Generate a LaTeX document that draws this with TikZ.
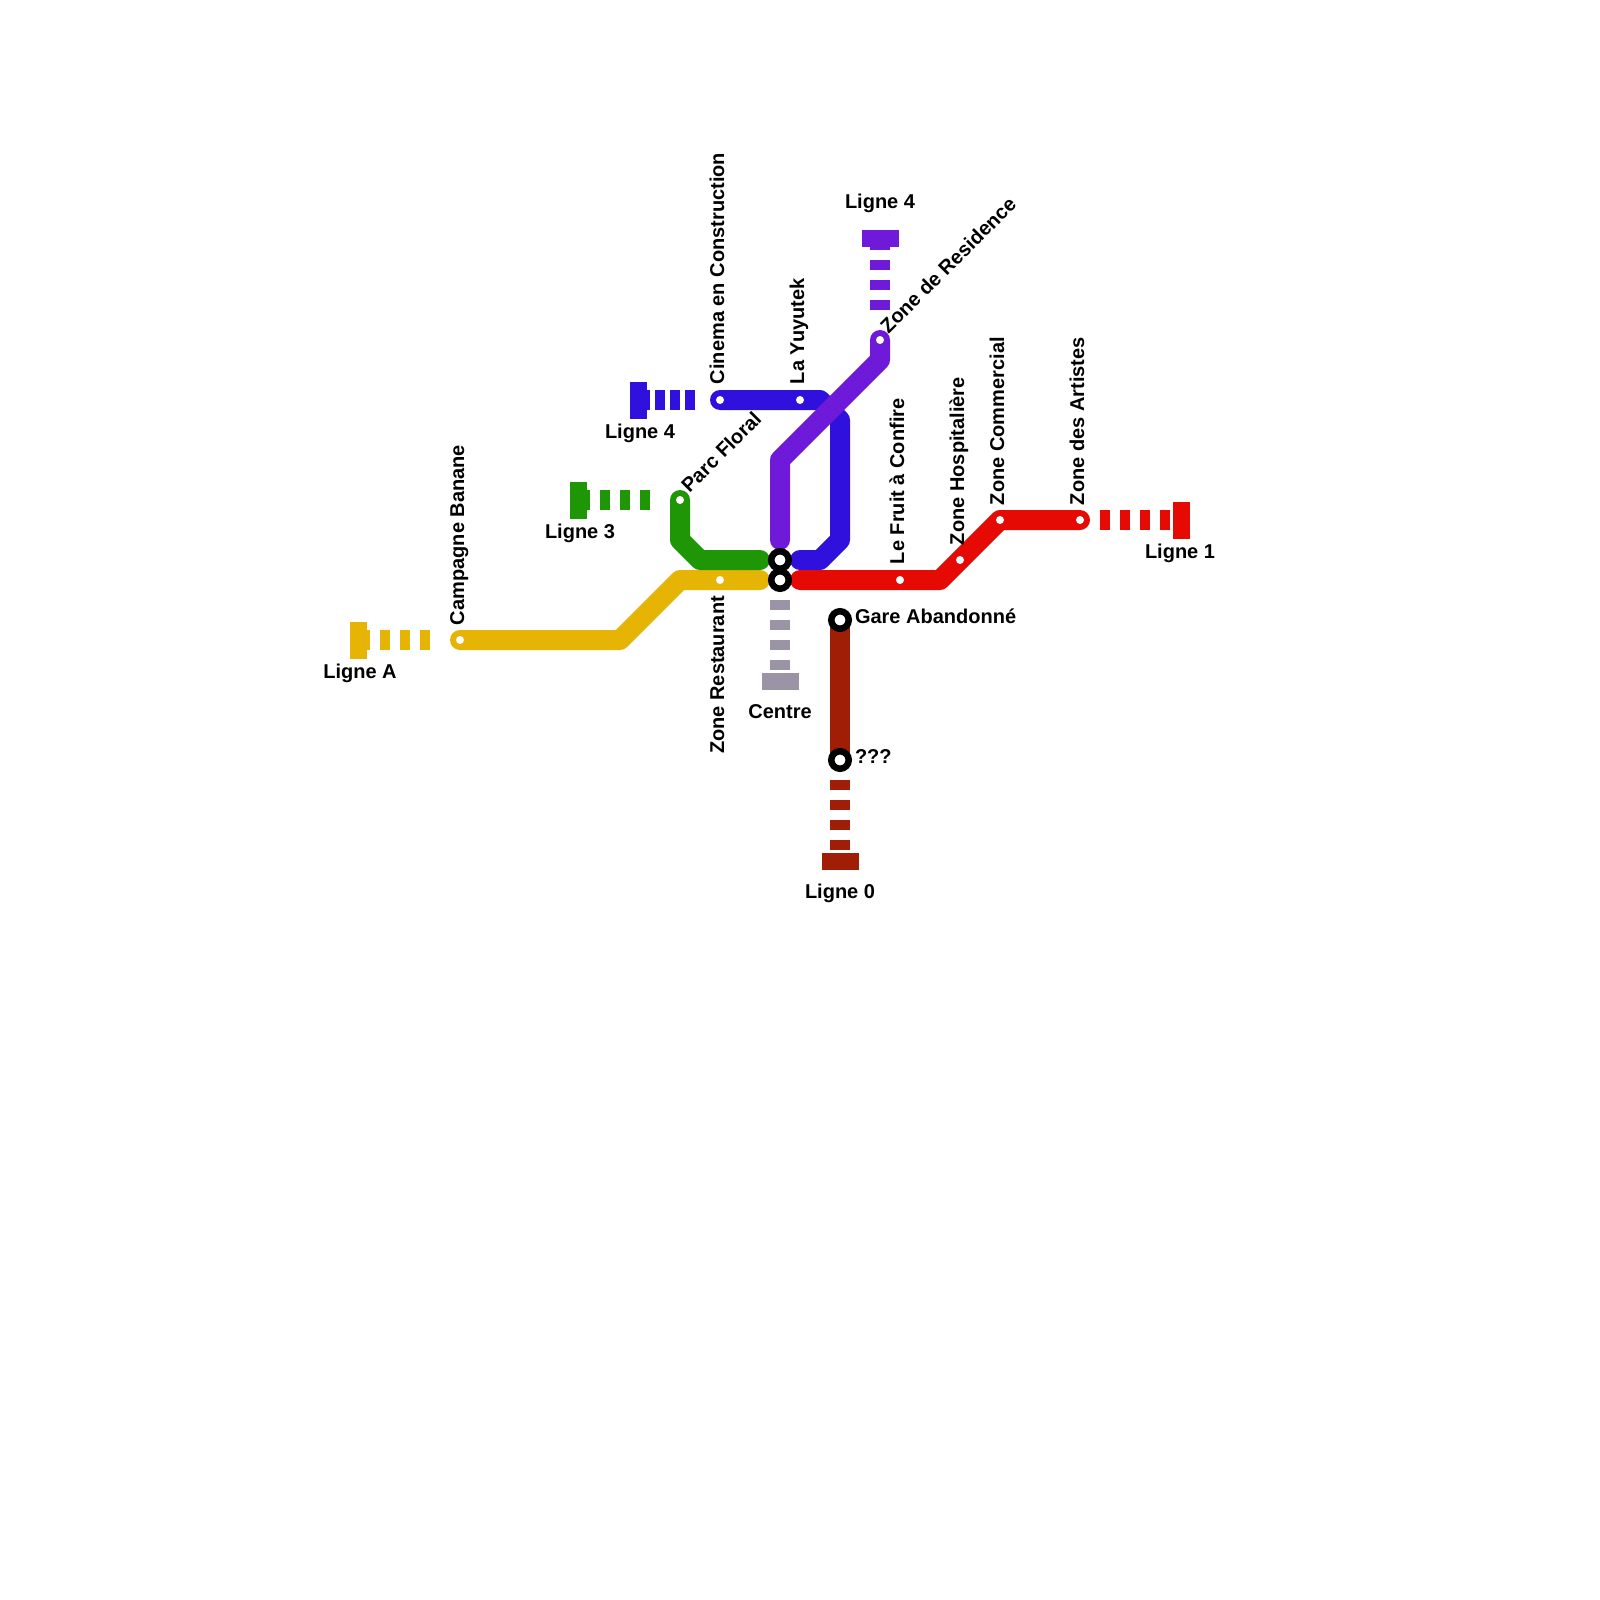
\documentclass[tikz,border=0pt]{standalone}
\usepackage{fontspec}
\setmainfont{Liberation Sans}
\definecolor{cgold}{HTML}{E6B405}
\definecolor{cgreen}{HTML}{1E9606}
\definecolor{cblue}{HTML}{3010DC}
\definecolor{cpurple}{HTML}{6E1AD8}
\definecolor{cred}{HTML}{E60A05}
\definecolor{cgray}{HTML}{9A94A6}
\definecolor{cmaroon}{HTML}{A01E05}
\tikzset{
  metro/.style={line width=20pt,line cap=round,line join=round},
  spur/.style={line width=20pt,line cap=butt},
  spurA/.style={spur,dash pattern=on 10pt off 10pt},
  spurB/.style={spur,dash pattern=on 10pt off 5pt},
  stn/.style={circle,fill=white,minimum size=8pt,inner sep=0pt,outer sep=0pt},
  hub/.style={circle,fill=white,draw=black,line width=6.5pt,minimum size=17.5pt,inner sep=0pt,outer sep=0pt},
  vblock/.style={rectangle,minimum width=17pt,minimum height=37pt,inner sep=0pt,outer sep=0pt},
  hblock/.style={rectangle,minimum width=37pt,minimum height=17pt,inner sep=0pt,outer sep=0pt},
  lab/.style={font=\fontsize{20}{24}\selectfont\bfseries,text=black,inner sep=0pt,outer sep=0pt,text height=14pt,text depth=4pt},
  vlab/.style={lab,rotate=90,anchor=west},
  vlabr/.style={lab,rotate=90,anchor=east},
  dlab/.style={lab,rotate=45,anchor=west},
  hlab/.style={lab,anchor=west},
  clab/.style={lab,anchor=center},
}
\begin{document}
\begin{tikzpicture}[x=1pt,y=-1pt]
\useasboundingbox[fill=white] (0,0) rectangle (1600,1600);
% way points
\foreach \n/\x/\y in {
  g1/460/640,g2/620/640,g3/680/580,g4/760/580,gs/430/640,ge/360/640,
  v1/680/500,v2/680/540,v3/700/560,v4/760/560,vs/650/500,ve/580/500,
  b1/720/400,b2/820/400,b3/840/420,b4/840/540,b5/820/560,b6/800/560,bs/695/400,be/640/400,
  p1/880/340,p2/880/360,p3/780/460,p4/780/540,ps/880/310,pe/880/240,
  r1/800/580,r2/940/580,r3/1000/520,r4/1080/520,rs/1100/520,re/1170/520,
  ys/780/600,ye/780/670,
  m1/840/620,m2/840/760,ms/840/780,me/840/850}
  {\coordinate (\n) at (\x,\y);}
% dashed spurs
\draw[spurA,cgold] (gs) -- (ge);
\draw[spurA,cgreen] (vs) -- (ve);
\draw[spurB,cblue] (bs) -- (be);
\draw[spurA,cpurple] (ps) -- (pe);
\draw[spurA,cred] (rs) -- (re);
\draw[spurA,cgray] (ys) -- (ye);
\draw[spurA,cmaroon] (ms) -- (me);
% terminal blocks
\node[vblock,fill=cgold] (tg) at (358.5,640) {};
\node[vblock,fill=cgreen] (tv) at (578.5,500) {};
\node[vblock,fill=cblue] (tb) at (638.5,400) {};
\node[hblock,fill=cpurple] (tp) at (880,238.5) {};
\node[vblock,fill=cred] (tr) at (1181.5,520) {};
\node[hblock,fill=cgray] (ty) at (780,681.5) {};
\node[hblock,fill=cmaroon] (tm) at (840,861.5) {};
% lines
\draw[metro,cgold] (g1) -- (g2) -- (g3) -- (g4);
\draw[metro,cgreen] (v1) -- (v2) -- (v3) -- (v4);
\draw[metro,cblue] (b1) -- (b2) -- (b3) -- (b4) -- (b5) -- (b6);
\draw[metro,cpurple] (p1) -- (p2) -- (p3) -- (p4);
\draw[metro,cred] (r1) -- (r2) -- (r3) -- (r4);
\draw[metro,cmaroon] (m1) -- (m2);
% stations
\node[stn] (sCampagne) at (g1) {};
\node[stn] (sRestaurant) at (720,580) {};
\node[stn] (sParc) at (v1) {};
\node[stn] (sCinema) at (b1) {};
\node[stn] (sYuyutek) at (800,400) {};
\node[stn] (sResidence) at (p1) {};
\node[stn] (sFruit) at (900,580) {};
\node[stn] (sHosp) at (960,560) {};
\node[stn] (sComm) at (r3) {};
\node[stn] (sArt) at (r4) {};
\node[hub] (hA) at (780,560) {};
\node[hub] (hB) at (780,580) {};
\node[hub] (hC) at (m1) {};
\node[hub] (hD) at (m2) {};
% labels
\node[vlab] (lCampagne) at (459,625) {Campagne Banane};
\node[vlab] (lCinema) at (719,384) {Cinema en Construction};
\node[vlab] (lYuyutek) at (799,384) {La Yuyutek};
\node[dlab] (lParc) at (686,490) {Parc Floral};
\node[dlab] (lResidence) at (885,331) {Zone de Residence};
\node[vlabr] (lRestaurant) at (719,596) {Zone Restaurant};
\node[vlab] (lFruit) at (899,564) {Le Fruit à Confire};
\node[vlab] (lHosp) at (959,545) {Zone Hospitalière};
\node[vlab] (lComm) at (999,505) {Zone Commercial};
\node[vlab] (lArt) at (1079,505) {Zone des Artistes};
\node[hlab] (lGare) at (855,618) {Gare Abandonné};
\node[hlab] (lQ) at (855,758) {???};
\node[clab] (lL4a) at (880,203) {Ligne 4};
\node[clab] (lL4b) at (640,433) {Ligne 4};
\node[clab] (lL3) at (580,533) {Ligne 3};
\node[clab] (lLA) at (360,673) {Ligne A};
\node[clab] (lL1) at (1180,553) {Ligne 1};
\node[clab] (lCentre) at (780,713) {Centre};
\node[clab] (lL0) at (840,893) {Ligne 0};
\end{tikzpicture}
\end{document}
